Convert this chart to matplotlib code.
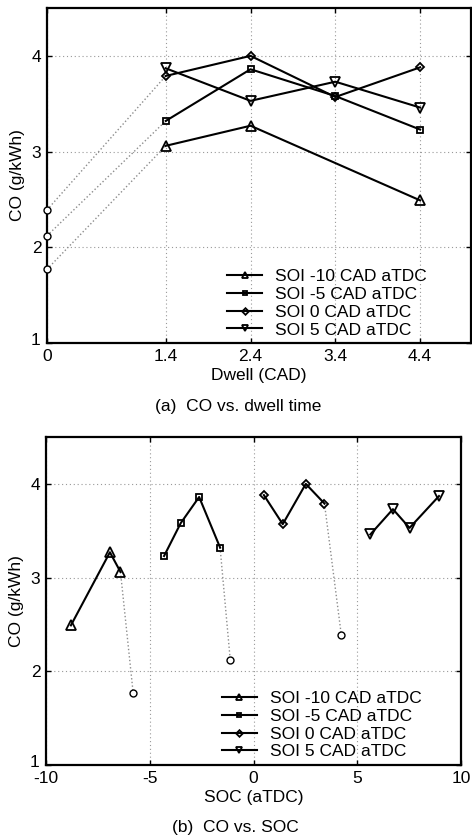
import matplotlib
matplotlib.use('Agg')
import matplotlib.pyplot as plt
import matplotlib.transforms as mtransforms

plt.rcParams['font.family'] = ['Liberation Sans', 'DejaVu Sans']
plt.rcParams['font.size'] = 12.5
plt.rcParams['axes.unicode_minus'] = False

# data
labels = ['SOI -10 CAD aTDC', 'SOI -5 CAD aTDC', 'SOI 0 CAD aTDC', 'SOI 5 CAD aTDC']
markers = ['^', 's', 'D', 'v']

dwell_m10 = [1.4, 2.4, 4.4]
dwell = [1.4, 2.4, 3.4, 4.4]
co_m10 = [3.06, 3.27, 2.49]
co_m5 = [3.32, 3.86, 3.58, 3.23]
co_0 = [3.79, 4.00, 3.57, 3.88]
co_p5 = [3.87, 3.53, 3.73, 3.46]

# SOC for the same points (same order as dwell)
soc_m10 = [-6.41, -6.92, -8.80]
soc_m5 = [-1.61, -2.62, -3.51, -4.31]
soc_0 = [3.42, 2.52, 1.41, 0.50]
soc_p5 = [8.94, 7.52, 6.72, 5.63]

# zero dwell points (SOI -10, -5, 0)
co_zero = [1.77, 2.12, 2.39]
soc_zero = [-5.80, -1.12, 4.23]

x_dwell = [dwell_m10, dwell, dwell, dwell]
x_soc = [soc_m10, soc_m5, soc_0, soc_p5]
co_all = [co_m10, co_m5, co_0, co_p5]

msizes = [6.5, 4.5, 4.5, 6.5]

fig = plt.figure(figsize=(4.72, 8.38), dpi=100)
ax1 = fig.add_axes([47 / 472, 1 - 343 / 838, 424 / 472, 335 / 838])
ax2 = fig.add_axes([46 / 472, 1 - 765 / 838, 415 / 472, 328 / 838])


def style(ax):
    ax.grid(True, linestyle=(0, (1, 2.5)), color='0.6', linewidth=0.8)
    ax.set_axisbelow(True)
    for s in ax.spines.values():
        s.set_linewidth(1.6)
    ax.tick_params(direction='in', length=3.5, width=1, top=True, right=True, pad=4)
    ax.set_ylim(1, 4.5)
    ax.set_yticks([1, 2, 3, 4])
    ax.set_ylabel('CO (g/kWh)', labelpad=4)


def add_legend(ax, xpos):
    ax.legend(loc='lower left', bbox_to_anchor=(xpos, -0.02), frameon=False, borderpad=0.2,
              handlelength=2.0, handletextpad=0.75, labelspacing=0.15, fontsize=12.5,
              markerscale=0.75)


def lift_bottom_label(ax):
    # the "1" sits a little up and left of the corner, as in the original
    lab = ax.get_yticklabels()[0]
    lab.set_transform(lab.get_transform() + mtransforms.ScaledTranslation(-1 / 100, 4 / 100, fig.dpi_scale_trans))


# (a) CO vs dwell
for i in range(3):
    ax1.plot([0, x_dwell[i][0]], [co_zero[i], co_all[i][0]], ':', color='0.55', linewidth=1, zorder=2)
ax1.plot([0, 0, 0], co_zero, 'o', color='black', mfc='white', markersize=5, mew=1, linestyle='none', zorder=4, clip_on=False)
for i in range(4):
    ax1.plot(x_dwell[i], co_all[i], '-', marker=markers[i], color='black', mfc='none',
             markersize=msizes[i], mew=1.3, linewidth=1.5, label=labels[i], zorder=3)
style(ax1)
ax1.set_xlim(0, 5)
ax1.set_xticks([0, 1.4, 2.4, 3.4, 4.4])
ax1.set_xticklabels(['0', '1.4', '2.4', '3.4', '4.4'])
ax1.set_xlabel('Dwell (CAD)', labelpad=3)
add_legend(ax1, 0.397)
lift_bottom_label(ax1)

# (b) CO vs SOC
for i in range(3):
    ax2.plot([x_soc[i][0], soc_zero[i]], [co_all[i][0], co_zero[i]], ':', color='0.55', linewidth=1, zorder=2)
ax2.plot(soc_zero, co_zero, 'o', color='black', mfc='white', markersize=5, mew=1, linestyle='none', zorder=4)
for i in range(4):
    ax2.plot(x_soc[i], co_all[i], '-', marker=markers[i], color='black', mfc='none',
             markersize=msizes[i], mew=1.3, linewidth=1.5, label=labels[i], zorder=3)
style(ax2)
ax2.set_xlim(-10, 10)
ax2.set_xticks([-10, -5, 0, 5, 10])
ax2.set_xlabel('SOC (aTDC)', labelpad=3)
add_legend(ax2, 0.395)
lift_bottom_label(ax2)

fig.text(238 / 472, 1 - 406 / 838, '(a)  CO vs. dwell time', ha='center', va='center')
fig.text(235 / 472, 1 - 827 / 838, '(b)  CO vs. SOC', ha='center', va='center')

plt.savefig('out.png', dpi=100)
